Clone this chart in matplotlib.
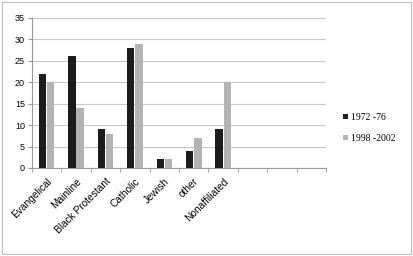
import numpy as np
import matplotlib.pyplot as plt
from matplotlib.patches import Rectangle

categories = ["Evangelical", "Mainline", "Black Protestant", "Catholic",
              "Jewish", "other", "Nonaffiliated", "", "", ""]
early = [22, 26, 9, 28, 2, 4, 9, np.nan, np.nan, np.nan]
late = [20, 14, 8, 29, 2, 7, 20, np.nan, np.nan, np.nan]
series_names = ["1972 -76", "1998 -2002"]

fig = plt.figure(figsize=(4.13, 2.56), dpi=100)
fig.patches.append(Rectangle((0.006, 0.008), 0.988, 0.984, transform=fig.transFigure,
                             fill=False, edgecolor="#bdbdbd", linewidth=0.8))
ax = fig.add_axes([0.077, 0.344, 0.713, 0.586])

x = np.arange(len(categories))
w = 0.25
ax.bar(x - 0.14, early, w, color="#1c1c1c", label=series_names[0], zorder=3)
ax.bar(x + 0.14, late, w, color="#b3b3b3", label=series_names[1], zorder=3)

ax.set_xlim(-0.5, len(categories) - 0.5)
ax.set_ylim(0, 35)
ax.set_yticks(range(0, 36, 5))
ax.yaxis.grid(True, color="#c8c8c8", linewidth=0.8, zorder=0)
for s in ["top", "right"]:
    ax.spines[s].set_visible(False)
ax.spines["left"].set_color("#999999")
ax.spines["bottom"].set_color("#999999")

ax.set_xticks(x)
ax.set_xticklabels(categories, rotation=45, ha="right", rotation_mode="anchor",
                   fontsize=7.3, family="Liberation Sans")
ax.tick_params(axis="x", length=0, pad=6)
ax.set_xticks(np.arange(-0.5, len(categories), 1), minor=True)
ax.tick_params(axis="x", which="minor", length=3, color="#999999")
ax.tick_params(axis="y", labelsize=6.5, length=3, color="#999999", pad=2)
for lab in ax.get_yticklabels():
    lab.set_family("Liberation Sans")

leg = fig.legend(loc="center left", bbox_to_anchor=(0.81, 0.5), frameon=False,
                 prop={"family": "Liberation Serif", "size": 7},
                 handlelength=0.5, handleheight=0.5, handletextpad=0.3,
                 labelspacing=1.2)

fig.savefig("out.png", dpi=100)
